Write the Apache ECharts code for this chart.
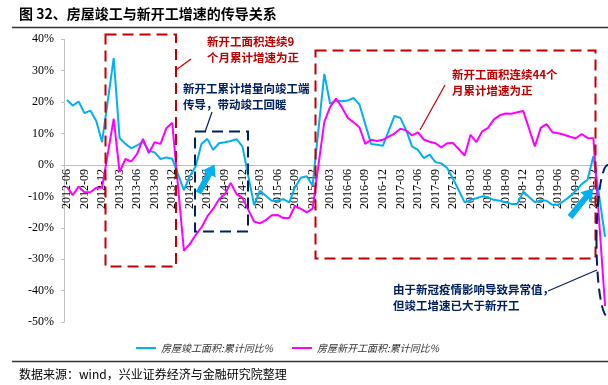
<!DOCTYPE html>
<html><head><meta charset="utf-8">
<script src="https://cdn.jsdelivr.net/npm/echarts@6/dist/echarts.min.js"></script>
<style>html,body{margin:0;padding:0;background:#fff}#c{width:608px;height:385px}</style>
</head><body><div id="c"></div>
<script>
const categories = [
 '2012-06','2012-07','2012-08','2012-09','2012-10','2012-11','2012-12',
 '2013-01','2013-02','2013-03','2013-04','2013-05','2013-06','2013-07','2013-08','2013-09','2013-10','2013-11','2013-12',
 '2014-01','2014-02','2014-03','2014-04','2014-05','2014-06','2014-07','2014-08','2014-09','2014-10','2014-11','2014-12',
 '2015-01','2015-02','2015-03','2015-04','2015-05','2015-06','2015-07','2015-08','2015-09','2015-10','2015-11','2015-12',
 '2016-01','2016-02','2016-03','2016-04','2016-05','2016-06','2016-07','2016-08','2016-09','2016-10','2016-11','2016-12',
 '2017-01','2017-02','2017-03','2017-04','2017-05','2017-06','2017-07','2017-08','2017-09','2017-10','2017-11','2017-12',
 '2018-01','2018-02','2018-03','2018-04','2018-05','2018-06','2018-07','2018-08','2018-09','2018-10','2018-11','2018-12',
 '2019-01','2019-02','2019-03','2019-04','2019-05','2019-06','2019-07','2019-08','2019-09','2019-10','2019-11','2019-12',
 '2020-01','2020-02'
];
// 房屋竣工面积:累计同比%
const completion = [
 20.7,18.9,20.2,16.5,17.3,14.1,7.3,
 null,34.0,8.6,6.7,5.3,6.2,7.4,4.5,4.0,1.9,2.4,2.0,
 null,-8.0,-3.6,-0.5,6.7,8.3,4.8,6.9,7.2,7.6,8.2,5.9,
 null,-12.8,-8.2,-9.8,-11.4,-11.3,-10.9,-11.9,-7.1,-4.1,-3.6,-6.6,
 null,29.0,19.5,20.5,20.3,20.5,21.3,19.3,13.0,6.7,6.4,6.1,
 null,15.6,15.0,11.0,5.9,4.8,2.2,3.3,0.9,0.5,-1.0,-4.4,
 null,-11.9,-11.1,-10.6,-10.0,-10.3,-11.1,-11.4,-11.9,-12.4,-12.4,-8.5,
 null,-11.9,-11.2,-11.4,-12.7,-12.7,-11.4,-10.0,-8.2,-6.1,-4.7,2.8,
 null,-22.9
];
// 房屋新开工面积:累计同比%
const newStarts = [
 -6.9,-9.6,-6.9,-8.7,-8.7,-7.3,-7.3,
 null,14.7,-2.3,1.9,1.1,3.5,8.3,3.8,7.2,6.7,11.7,13.4,
 null,-27.3,-25.2,-22.3,-19.9,-16.4,-14.0,-10.9,-9.3,-5.7,-9.3,-10.5,
 null,-18.0,-18.6,-17.6,-16.0,-15.9,-16.9,-16.9,-13.0,-14.0,-15.1,-13.9,
 null,13.7,18.5,21.1,18.4,15.0,13.6,12.0,6.7,8.0,7.6,8.0,
 null,10.0,11.5,11.0,9.4,10.4,8.1,7.4,6.9,5.6,6.9,7.0,
 null,3.0,9.6,7.3,10.7,11.8,14.5,15.8,16.4,16.3,16.8,17.2,
 null,5.9,11.8,13.0,10.4,10.1,9.6,9.0,8.5,9.8,8.6,8.5,
 null,-44.9
];
const seriesNames = ['房屋竣工面积:累计同比%','房屋新开工面积:累计同比%'];
const yTicks = {min:-50, max:40, interval:10};
const titleText = '图 32、房屋竣工与新开工增速的传导关系';
const sourceText = '数据来源：wind，兴业证券经济与金融研究院整理';
const notes = {
  red9: '新开工面积连续9\n个月累计增速为正',
  navyUp: '新开工累计增量向竣工端\n传导，带动竣工回暖',
  red44: '新开工面积连续44个\n月累计增速为正',
  covid: '由于新冠疫情影响导致异常值，\n但竣工增速已大于新开工'
};

const RED = '#C00000', NAVY = '#002060', BLUE = '#00B0F0', MAG = '#FF00FF';
const CJK = '"Noto Sans CJK SC", sans-serif';
const SERIF = '"Liberation Serif", "Times New Roman", serif';
const GRID = {left: 64, top: 39.3, width: 546, height: 282.7};
// distance from grid bottom to the 0% line
const zeroOffset = -GRID.height * (0 - yTicks.min) / (yTicks.max - yTicks.min);

function arrow(tx, ty, hx, hy, w, hw, hl) {
  const L = Math.hypot(hx - tx, hy - ty);
  const dx = (hx - tx) / L, dy = (hy - ty) / L;
  const nx = -dy, ny = dx;
  const bx = hx - dx * hl, by = hy - dy * hl;
  return {
    type: 'polygon', z: 100,
    shape: {points: [
      [tx + nx * w, ty + ny * w], [bx + nx * w, by + ny * w], [bx + nx * hw, by + ny * hw],
      [hx, hy], [bx - nx * hw, by - ny * hw], [bx - nx * w, by - ny * w], [tx - nx * w, ty - ny * w]
    ]},
    style: {fill: BLUE}
  };
}
function dashRect(x, y, w, h, color) {
  return {type: 'rect', z: 50, shape: {x, y, width: w, height: h},
    style: {fill: null, stroke: color, lineWidth: 2, lineDash: [11, 6]}};
}
function seg(x1, y1, x2, y2, color, lw) {
  return {type: 'line', z: 50, shape: {x1, y1, x2, y2}, style: {stroke: color, lineWidth: lw || 1.2}};
}
function note(x, y, text, color) {
  return {type: 'text', z: 60, x, y, style: {text, fill: color, font: 'bold 11.5px ' + CJK, lineHeight: 16, verticalAlign: 'middle'}};
}

const chart = echarts.init(document.getElementById('c'), null, {renderer: 'canvas'});
chart.setOption({
  animation: false,
  backgroundColor: '#fff',
  grid: Object.assign({containLabel: false}, GRID),
  legend: {
    left: 131, top: 338, itemWidth: 20, itemHeight: 2, itemGap: 19, icon: 'rect',
    data: seriesNames,
    textStyle: {fontFamily: CJK, fontSize: 10, fontStyle: 'italic', color: '#333'}
  },
  xAxis: {
    type: 'category', data: categories, boundaryGap: true,
    offset: zeroOffset,
    axisLine: {onZero: false, lineStyle: {color: '#BFBFBF', width: 1}},
    axisTick: {show: false},
    axisLabel: {interval: 2, rotate: 90, margin: 4, fontFamily: SERIF, fontSize: 12, color: '#000'},
    splitLine: {show: false}
  },
  yAxis: {
    type: 'value', min: yTicks.min, max: yTicks.max, interval: yTicks.interval,
    axisLine: {show: true, lineStyle: {color: '#BFBFBF', width: 1}},
    axisTick: {show: true, length: 3, lineStyle: {color: '#BFBFBF'}},
    axisLabel: {formatter: '{value}%', margin: 10, fontFamily: SERIF, fontSize: 12, color: '#000'},
    splitLine: {show: false}
  },
  series: [
    {name: seriesNames[0], type: 'line', data: completion, symbol: 'none', connectNulls: true,
     lineStyle: {color: BLUE, width: 2}, itemStyle: {color: BLUE}, z: 3},
    {name: seriesNames[1], type: 'line', data: newStarts, symbol: 'none', connectNulls: true,
     lineStyle: {color: MAG, width: 2}, itemStyle: {color: MAG}, z: 4}
  ],
  graphic: [
    {type: 'text', x: 19, y: 14, style: {text: titleText, fill: '#000', font: 'bold 14px ' + CJK, verticalAlign: 'middle'}},
    {type: 'line', shape: {x1: 12, y1: 27.5, x2: 608, y2: 27.5}, style: {stroke: '#333', lineWidth: 1.5}},
    {type: 'line', shape: {x1: 12, y1: 361.5, x2: 608, y2: 361.5}, style: {stroke: '#333', lineWidth: 1.5}},
    {type: 'text', x: 19, y: 374, style: {text: sourceText, fill: '#000', font: '12px ' + CJK, verticalAlign: 'middle'}},
    dashRect(105.5, 34.5, 70.5, 232, RED),
    dashRect(315.5, 50.5, 280, 208, RED),
    dashRect(195, 131.5, 53, 100, NAVY),
    {type: 'ellipse', z: 50, shape: {cx: 608, cy: 241, rx: 11.5, ry: 76},
     style: {fill: null, stroke: NAVY, lineWidth: 2, lineDash: [11, 6]}},
    seg(176, 70, 191, 59, RED),
    seg(212, 112, 205, 132, NAVY),
    seg(445, 85, 420, 130, RED),
    seg(548, 291, 597, 270, NAVY),
    note(207, 50, notes.red9, RED),
    note(183, 96.5, notes.navyUp, NAVY),
    note(452, 83, notes.red44, RED),
    note(393, 297.5, notes.covid, NAVY),
    arrow(198.5, 193, 214.5, 164.5, 3, 7.5, 11),
    arrow(570, 217, 593, 188.5, 3, 7.5, 11)
  ]
});
</script>
</body></html>
